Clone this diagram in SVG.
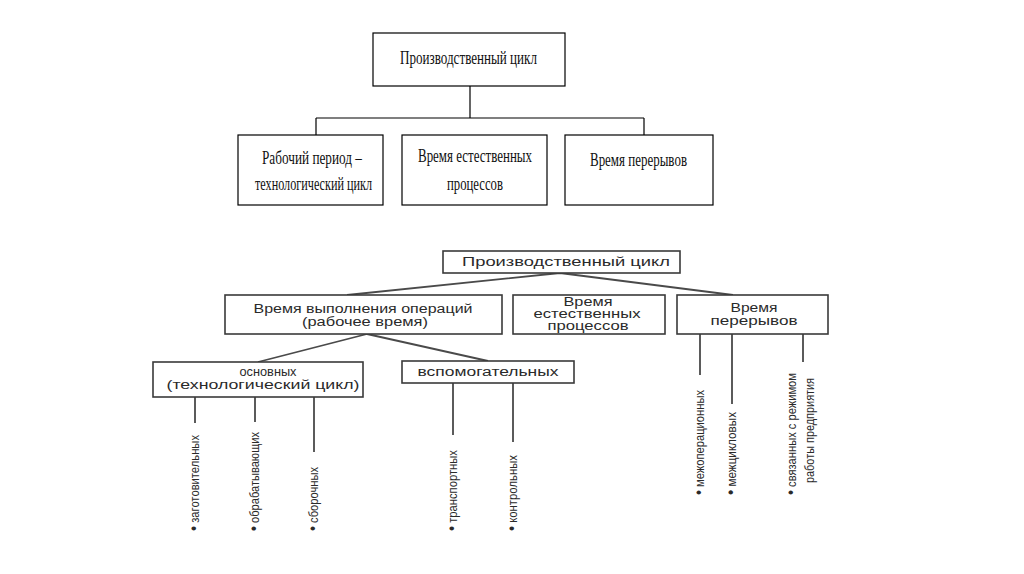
<svg xmlns="http://www.w3.org/2000/svg" width="1024" height="574" viewBox="0 0 1024 574">
<style>
.tb{fill:#fff;stroke:#000;stroke-width:1.2}
.bb{fill:#fff;stroke:#3a3a3a;stroke-width:1.6}
.tl{stroke:#000;stroke-width:1.2;fill:none}
.bl{stroke:#4a4a4a;stroke-width:1.8;fill:none}
.ts{font-family:"Liberation Serif","Times New Roman",serif;font-size:19px;fill:#111}
.bs{font-family:"Liberation Sans",Arial,sans-serif;font-size:12.5px;fill:#2a2a2a;text-anchor:middle}
.vs{font-family:"Liberation Sans",Arial,sans-serif;font-size:12.5px;fill:#2a2a2a}
.bu{font-size:16px}
</style>
<rect width="1024" height="574" fill="#fff"/>
<g id="connectors">
<path class="tl" d="M470 86V118M316 118H644M316 118V135M644 118V135"/>
<path class="bl" d="M560 273L347 295M560 273L733 295M367 334L258 362M367 334L488 361"/>
<path class="bl" d="M195 397V423M255 397V422M314 397V452M453 383V435M513 383V442M700 334V375M732 334V404M803 334V362"/>
</g>
<g id="t-root"><rect class="tb" x="373" y="33" width="192" height="53"/><text class="ts" x="400" y="64" textLength="137" lengthAdjust="spacingAndGlyphs">Производственный цикл</text></g>
<g id="t-work"><rect class="tb" x="238" y="135" width="145" height="70"/><text class="ts" x="262" y="164" textLength="100" lengthAdjust="spacingAndGlyphs">Рабочий период –</text><text class="ts" x="255" y="190" textLength="117" lengthAdjust="spacingAndGlyphs">технологический цикл</text></g>
<g id="t-nat"><rect class="tb" x="402" y="135" width="145" height="70"/><text class="ts" x="418" y="162" textLength="114" lengthAdjust="spacingAndGlyphs">Время естественных</text><text class="ts" x="447" y="190" textLength="56" lengthAdjust="spacingAndGlyphs">процессов</text></g>
<g id="t-brk"><rect class="tb" x="565" y="135" width="148" height="70"/><text class="ts" x="590" y="166" textLength="97" lengthAdjust="spacingAndGlyphs">Время перерывов</text></g>
<g id="b-root"><rect class="bb" x="443" y="251" width="237" height="22"/><text class="bs" x="566" y="266" textLength="208" lengthAdjust="spacingAndGlyphs">Производственный цикл</text></g>
<g id="b-ops"><rect class="bb" x="225" y="295" width="277" height="39"/><text class="bs" x="363" y="313" textLength="219" lengthAdjust="spacingAndGlyphs">Время выполнения операций</text><text class="bs" x="365" y="326" textLength="126" lengthAdjust="spacingAndGlyphs">(рабочее время)</text></g>
<g id="b-nat"><rect class="bb" x="513" y="295" width="152" height="39"/><text class="bs" x="588" y="306" textLength="49" lengthAdjust="spacingAndGlyphs">Время</text><text class="bs" x="587" y="318" textLength="107" lengthAdjust="spacingAndGlyphs">естественных</text><text class="bs" x="588" y="330" textLength="81" lengthAdjust="spacingAndGlyphs">процессов</text></g>
<g id="b-brk"><rect class="bb" x="677" y="295" width="151" height="39"/><text class="bs" x="754" y="312" textLength="47" lengthAdjust="spacingAndGlyphs">Время</text><text class="bs" x="754" y="325" textLength="87" lengthAdjust="spacingAndGlyphs">перерывов</text></g>
<g id="b-main"><rect class="bb" x="153" y="362" width="210" height="35"/><text class="bs" x="268" y="376" textLength="57" lengthAdjust="spacingAndGlyphs">основных</text><text class="bs" x="263" y="389" textLength="193" lengthAdjust="spacingAndGlyphs">(технологический цикл)</text></g>
<g id="b-aux"><rect class="bb" x="402" y="361" width="172" height="22"/><text class="bs" x="488" y="376" textLength="141" lengthAdjust="spacingAndGlyphs">вспомогательных</text></g>
<g id="leaves">
<text class="vs" transform="translate(199 531) rotate(-90)" textLength="96" lengthAdjust="spacingAndGlyphs"><tspan class="bu">•</tspan> заготовительных</text>
<text class="vs" transform="translate(259 531) rotate(-90)" textLength="99" lengthAdjust="spacingAndGlyphs"><tspan class="bu">•</tspan> обрабатывающих</text>
<text class="vs" transform="translate(318 531) rotate(-90)" textLength="64" lengthAdjust="spacingAndGlyphs"><tspan class="bu">•</tspan> сборочных</text>
<text class="vs" transform="translate(457 531) rotate(-90)" textLength="81" lengthAdjust="spacingAndGlyphs"><tspan class="bu">•</tspan> транспортных</text>
<text class="vs" transform="translate(517 531) rotate(-90)" textLength="76" lengthAdjust="spacingAndGlyphs"><tspan class="bu">•</tspan> контрольных</text>
<text class="vs" transform="translate(704 495) rotate(-90)" textLength="105" lengthAdjust="spacingAndGlyphs"><tspan class="bu">•</tspan> межоперационных</text>
<text class="vs" transform="translate(736 495) rotate(-90)" textLength="83" lengthAdjust="spacingAndGlyphs"><tspan class="bu">•</tspan> межцикловых</text>
<text class="vs" transform="translate(796 495) rotate(-90)" textLength="122" lengthAdjust="spacingAndGlyphs"><tspan class="bu">•</tspan> связанных с режимом</text>
<text class="vs" transform="translate(814 483) rotate(-90)" textLength="105" lengthAdjust="spacingAndGlyphs">работы предприятия</text>
</g>
</svg>
